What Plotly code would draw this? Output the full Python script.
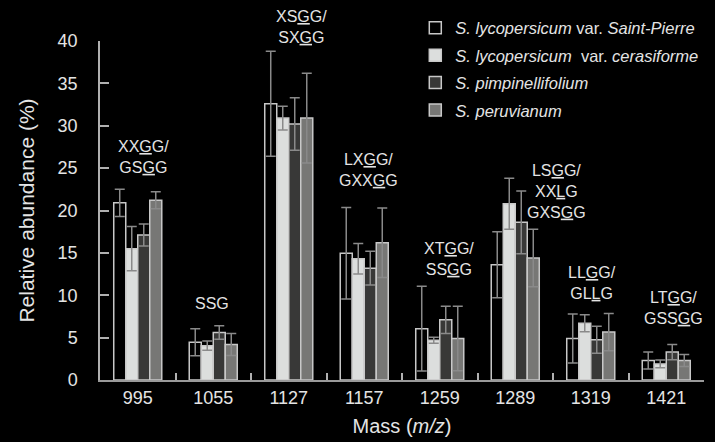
import plotly.graph_objects as go

categories = ["995", "1055", "1127", "1157", "1259", "1289", "1319", "1421"]

series_names = [
    "<i>S. lycopersicum</i> var. <i>Saint-Pierre</i>",
    "<i>S. lycopersicum</i>  var. <i>cerasiforme</i>",
    "<i>S. pimpinellifolium</i>",
    "<i>S. peruvianum</i>",
]

saint_pierre = [20.9, 4.45, 32.6, 14.95, 6.06, 13.6, 4.9, 2.3]
saint_pierre_err = [1.6, 1.6, 6.2, 5.4, 5.0, 3.9, 2.9, 1.0]

cerasiforme = [15.5, 4.05, 30.9, 14.3, 4.7, 20.8, 6.7, 1.9]
cerasiforme_err = [2.6, 0.55, 1.4, 1.8, 0.35, 3.0, 1.0, 0.45]

pimpinellifolium = [17.1, 5.6, 30.2, 13.2, 7.1, 18.6, 4.75, 3.3]
pimpinellifolium_err = [1.3, 0.8, 3.1, 2.0, 1.6, 3.7, 1.6, 0.9]

peruvianum = [21.2, 4.2, 30.9, 16.2, 4.9, 14.4, 5.66, 2.3]
peruvianum_err = [1.0, 1.3, 5.3, 4.1, 3.8, 3.4, 2.2, 0.7]

# structural labels above groups
labels = [
    "XX<u>G</u>G/<br>GS<u>G</u>G",
    "SSG",
    "XS<u>G</u>G/<br>SX<u>G</u>G",
    "LX<u>G</u>G/<br>GXX<u>G</u>G",
    "XT<u>G</u>G/<br>SS<u>G</u>G",
    "LS<u>G</u>G/<br>XX<u>L</u>G<br>GXS<u>G</u>G",
    "LL<u>G</u>G/<br>GL<u>L</u>G",
    "LT<u>G</u>G/<br>GSS<u>G</u>G",
]
label_x = [0.08, 0.98, 2.17, 3.05, 4.12, 5.55, 6.02, 7.09]
label_y = [26.3, 8.97, 41.7, 24.8, 14.3, 22.3, 11.4, 8.44]
y_max = 40

values = [saint_pierre, cerasiforme, pimpinellifolium, peruvianum]
errors = [saint_pierre_err, cerasiforme_err, pimpinellifolium_err, peruvianum_err]
fills = ["#000000", "#dcdedd", "#383837", "#777775"]

txt = "#e4e4e4"
font_family = "Liberation Sans, Arial, sans-serif"

fig = go.Figure()
for i, (name, v, e, c) in enumerate(zip(series_names, values, errors, fills)):
    fig.add_trace(go.Bar(
        x=categories, y=v, name=name,
        marker=dict(color=c, line=dict(color="#c8c8c8", width=1.5)),
        error_y=dict(type="data", array=e, visible=True, color="#8a8a8a",
                     thickness=1.5, width=5),
        legendgroup=str(i),
    ))

for lab, lx, ly in zip(labels, label_x, label_y):
    fig.add_annotation(x=lx, y=ly / y_max, xref="x", yref="y domain", text=lab,
                       showarrow=False,
                       font=dict(size=16, color=txt, family=font_family),
                       align="center", xanchor="center", yanchor="middle")

fig.update_layout(
    width=715, height=442,
    paper_bgcolor="#000000", plot_bgcolor="#000000",
    margin=dict(l=100, r=11, t=41, b=62, autoexpand=False),
    barmode="group", bargap=0.364, bargroupgap=0,
    font=dict(family=font_family, color=txt),
    showlegend=True,
    legend=dict(x=0.522, y=1.09, xanchor="left", yanchor="top",
                bgcolor="rgba(0,0,0,0)", font=dict(size=16.5, color=txt),
                itemwidth=30, tracegroupgap=3),
    xaxis=dict(
        type="category", range=[-0.5, 7.5],
        showline=True, linecolor="#9a9a9a", linewidth=2,
        ticks="inside", tickson="boundaries", ticklen=7, tickcolor="#b0b0b0", tickwidth=1.5,
        tickfont=dict(size=18, color=txt), ticklabelstandoff=0,
        title=dict(text="Mass (<i>m/z</i>)", font=dict(size=20, color=txt), standoff=12),
        showgrid=False, zeroline=False, automargin=False,
    ),
    yaxis=dict(
        range=[0, y_max], dtick=5,
        showline=True, linecolor="#b0b0b0", linewidth=1.5,
        ticks="inside", ticklen=9, tickcolor="#b0b0b0", tickwidth=1.5,
        tickfont=dict(size=18, color=txt), ticklabelstandoff=17,
        title=dict(text="Relative abundance (%)", font=dict(size=21, color=txt), standoff=17),
        showgrid=False, zeroline=False, automargin=False,
    ),
)

fig.write_html("out.html",
               config={"displayModeBar": False},
               post_script="document.body.style.margin='0';document.body.style.background='#000';")
